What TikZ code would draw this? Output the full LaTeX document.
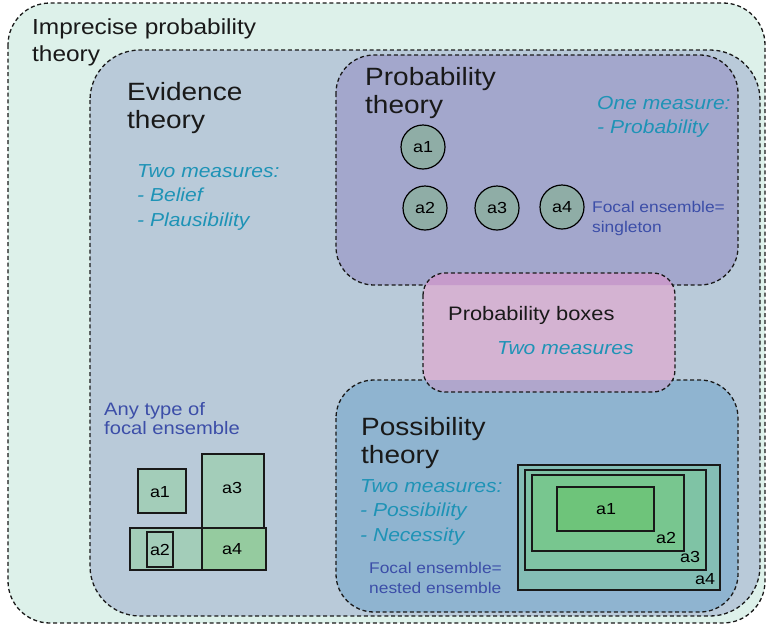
\documentclass[tikz,border=0pt]{standalone}
\usepackage{fontspec}
\setmainfont{Liberation Sans}[FakeStretch=1.12]
\definecolor{impC}{HTML}{DDF1EA}
\definecolor{eviC}{HTML}{B9CAD9}
\definecolor{proC}{HTML}{A3A7CC}
\definecolor{posC}{HTML}{8FB4D0}
\definecolor{pbxC}{HTML}{D4B3D2}
\definecolor{pbxTop}{HTML}{C69BCB}
\definecolor{pbxBot}{HTML}{B0A6CC}
\definecolor{tealT}{HTML}{1E93B6}
\definecolor{blueT}{HTML}{3C4EA8}
\definecolor{circC}{HTML}{8FADA6}
\definecolor{sqC}{HTML}{A3CDB9}
\definecolor{sqD}{HTML}{95CB9F}
\definecolor{nA}{HTML}{6EC47A}
\definecolor{nB}{HTML}{78C68F}
\definecolor{nC}{HTML}{7FC3A5}
\definecolor{nD}{HTML}{84BDB5}
\tikzset{
  region/.style={draw=black!90, line width=1.3pt, dash pattern=on 4pt off 2.8pt},
  title/.style={anchor=north west, inner sep=0pt, align=left, font=\fontsize{25}{28}\selectfont, text=black!90},
  meas/.style={anchor=north west, inner sep=0pt, align=left, font=\itshape\fontsize{18.8}{24.5}\selectfont, text=tealT},
  focal/.style={anchor=north west, inner sep=0pt, align=left, font=\fontsize{15.5}{20}\selectfont, text=blueT},
  circ/.style={circle, draw=black, line width=1.2pt, fill=circC, minimum size=44pt, inner sep=0pt, font=\fontsize{16}{18}\selectfont},
  boxline/.style={draw=black!90, line width=1.3pt},
  lab/.style={inner sep=0pt, font=\fontsize{16}{18}\selectfont}
}
\begin{document}
\begin{tikzpicture}[x=1pt,y=-1pt]
\useasboundingbox (0,0) rectangle (767,627);
% regions
\path[region, fill=impC, rounded corners=42pt] (8,3) rectangle (765,623);
\path[region, fill=eviC, rounded corners=50pt] (90,50) rectangle (760,616);
\path[region, fill=proC, rounded corners=38pt] (336,55) rectangle (738,285);
\path[region, fill=posC, rounded corners=38pt] (336,380) rectangle (738,612);
% probability boxes with overlaps
\fill[pbxC, rounded corners=22pt] (423,273) rectangle (675,392);
\begin{scope}
  \clip[rounded corners=22pt] (423,273) rectangle (675,392);
  \fill[pbxTop, rounded corners=38pt] (336,55) rectangle (738,285);
  \fill[pbxBot, rounded corners=38pt] (336,380) rectangle (738,612);
\end{scope}
\draw[region, rounded corners=22pt] (423,273) rectangle (675,392);

% texts
\node[title, font=\fontsize{21.8}{27}\selectfont] (imp) at (32,19) {Imprecise probability\\theory};
\node[title] (evi) at (127,82) {Evidence\\theory};
\node[meas] (evim) at (137,164) {Two measures:\\- Belief\\- Plausibility};
\node[title] (pro) at (365,67) {Probability\\theory};
\node[meas] (prom) at (597,96) {One measure:\\- Probability};
\node[focal] (prof) at (592,201) {Focal ensemble=\\singleton};
\node[title, font=\fontsize{19.5}{24}\selectfont] (pbx) at (448,306) {Probability boxes};
\node[meas] (pbxm) at (497,341) {Two measures};
\node[focal, font=\fontsize{18}{19}\selectfont] (evif) at (104,402) {Any type of\\focal ensemble};
\node[title] (pos) at (361,417) {Possibility\\theory};
\node[meas] (posm) at (360,479) {Two measures:\\- Possibility\\- Necessity};
\node[focal] (posf) at (369,562) {Focal ensemble=\\nested ensemble};

% circles
\node[circ] (c1) at (423,147) {a1};
\node[circ] (c2) at (425,208) {a2};
\node[circ] (c3) at (497,208) {a3};
\node[circ] (c4) at (562,207) {a4};

% evidence squares
\filldraw[boxline, fill=sqC] (130,528) rectangle (266,570);
\filldraw[boxline, fill=sqC] (202,454) rectangle (264,528);
\filldraw[boxline, fill=sqD] (202,528) rectangle (266,570);
\filldraw[boxline, fill=sqC] (138,469) rectangle (186,513);
\filldraw[boxline, fill=sqC] (147,532) rectangle (173,567);
\node[lab] (e1) at (160,492) {a1};
\node[lab] (e2) at (160,550) {a2};
\node[lab] (e3) at (232,488) {a3};
\node[lab] (e4) at (232,549) {a4};

% nested rectangles
\filldraw[boxline, fill=nD] (518,465) rectangle (720,590);
\filldraw[boxline, fill=nC] (525,470) rectangle (706,570);
\filldraw[boxline, fill=nB] (532,475) rectangle (684,551);
\filldraw[boxline, fill=nA] (557,487) rectangle (654,531);
\node[lab] (n1) at (606,509) {a1};
\node[lab] (n2) at (666,538) {a2};
\node[lab] (n3) at (690,557) {a3};
\node[lab] (n4) at (705,579) {a4};
\end{tikzpicture}
\end{document}
